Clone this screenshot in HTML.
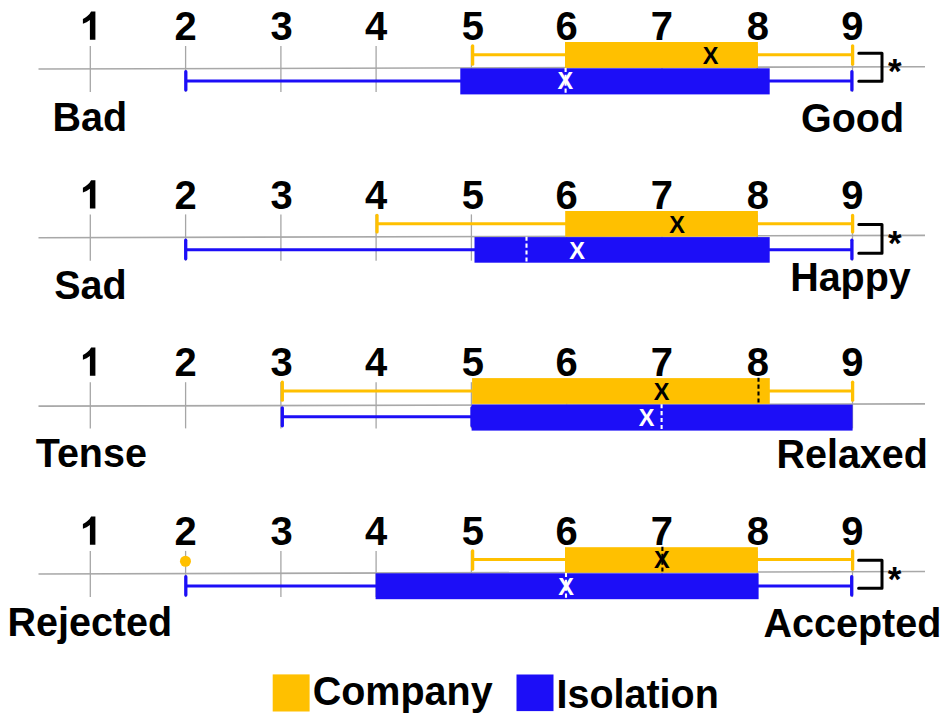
<!DOCTYPE html>
<html><head><meta charset="utf-8"><style>
html,body{margin:0;padding:0;background:#fff;}
svg{display:block;}
text{font-family:"Liberation Sans",sans-serif;}
.n{font-size:40px;font-weight:bold;text-anchor:middle;fill:#000;}
.l{font-size:39.5px;font-weight:bold;fill:#000;}
.r{font-size:39.5px;font-weight:bold;text-anchor:end;fill:#000;}
.x{font-size:23.5px;font-weight:bold;text-anchor:middle;}
.a{font-size:35px;font-weight:bold;text-anchor:middle;fill:#000;}
</style></head><body>
<svg width="945" height="725" viewBox="0 0 945 725">
<line x1="38.5" y1="69.0" x2="925" y2="66.75" stroke="#a8a8a8" stroke-width="1.6"/>
<line x1="90.3" y1="46" x2="90.3" y2="92" stroke="#a6a6a6" stroke-width="1.3"/>
<path d="M91.10,11.50 L95.40,11.50 L95.40,39.80 L89.90,39.80 L89.90,20.00 C87.80,21.60 85.50,22.90 82.90,23.80 L82.90,19.00 C85.60,17.80 89.50,14.90 91.10,11.50 Z" fill="#000"/>
<line x1="185.6" y1="46" x2="185.6" y2="92" stroke="#a6a6a6" stroke-width="1.3"/>
<text transform="translate(185.6,40.0) scale(1,1.025)" class="n">2</text>
<line x1="280.9" y1="46" x2="280.9" y2="92" stroke="#a6a6a6" stroke-width="1.3"/>
<text transform="translate(281.6,40.0) scale(1,1.025)" class="n">3</text>
<line x1="376.1" y1="46" x2="376.1" y2="92" stroke="#a6a6a6" stroke-width="1.3"/>
<text transform="translate(376.1,40.0) scale(1,1.025)" class="n">4</text>
<line x1="471.4" y1="46" x2="471.4" y2="92" stroke="#a6a6a6" stroke-width="1.3"/>
<text transform="translate(472.9,40.0) scale(1,1.025)" class="n">5</text>
<line x1="566.7" y1="46" x2="566.7" y2="92" stroke="#a6a6a6" stroke-width="1.3"/>
<text transform="translate(566.7,40.0) scale(1,1.025)" class="n">6</text>
<line x1="662.0" y1="46" x2="662.0" y2="92" stroke="#a6a6a6" stroke-width="1.3"/>
<text transform="translate(662.0,40.0) scale(1,1.025)" class="n">7</text>
<line x1="757.2" y1="46" x2="757.2" y2="92" stroke="#a6a6a6" stroke-width="1.3"/>
<text transform="translate(758.0,40.0) scale(1,1.025)" class="n">8</text>
<line x1="852.5" y1="46" x2="852.5" y2="92" stroke="#a6a6a6" stroke-width="1.3"/>
<text transform="translate(852.5,40.0) scale(1,1.025)" class="n">9</text>
<line x1="472.6" y1="54.8" x2="852.6" y2="54.8" stroke="#FFC000" stroke-width="3"/>
<line x1="472.6" y1="45.85" x2="472.6" y2="64.14999999999999" stroke="#FFC000" stroke-width="3.3" stroke-linecap="round"/>
<line x1="852.6" y1="45.85" x2="852.6" y2="64.14999999999999" stroke="#FFC000" stroke-width="3.3" stroke-linecap="round"/>
<rect x="565" y="42" width="192.9" height="25.8" fill="#FFC000"/>
<text x="710.6" y="64.3" class="x" fill="#000">X</text>
<line x1="185.8" y1="81.0" x2="851.9" y2="81.0" stroke="#1C0EF7" stroke-width="3"/>
<line x1="185.8" y1="71.65" x2="185.8" y2="89.94999999999999" stroke="#1C0EF7" stroke-width="3.3" stroke-linecap="round"/>
<line x1="851.9" y1="71.65" x2="851.9" y2="89.94999999999999" stroke="#1C0EF7" stroke-width="3.3" stroke-linecap="round"/>
<rect x="460.3" y="68.3" width="309.4" height="26.1" fill="#1C0EF7"/>
<line x1="565.6" y1="67.89999999999999" x2="565.6" y2="94.4" stroke="#fff" stroke-width="2.1" stroke-dasharray="4.1 2.8"/>
<text x="565.3" y="89.3" class="x" fill="#fff">X</text>
<path d="M858.8,53.2 H882 V81.2 H858.8" fill="none" stroke="#000" stroke-width="3" stroke-linecap="round" stroke-linejoin="round"/>
<text x="894.7" y="83.4" class="a">*</text>
<text transform="translate(52.5,131.2) scale(1,1.04)" class="l">Bad</text>
<text transform="translate(904.1,131.6) scale(1,1.04)" class="r">Good</text>
<line x1="38.5" y1="237.75" x2="925" y2="235.35" stroke="#a8a8a8" stroke-width="1.6"/>
<line x1="90.3" y1="214.4" x2="90.3" y2="260.7" stroke="#a6a6a6" stroke-width="1.3"/>
<path d="M91.10,180.30 L95.40,180.30 L95.40,208.60 L89.90,208.60 L89.90,188.80 C87.80,190.40 85.50,191.70 82.90,192.60 L82.90,187.80 C85.60,186.60 89.50,183.70 91.10,180.30 Z" fill="#000"/>
<line x1="185.6" y1="214.4" x2="185.6" y2="260.7" stroke="#a6a6a6" stroke-width="1.3"/>
<text transform="translate(185.6,208.8) scale(1,1.025)" class="n">2</text>
<line x1="280.9" y1="214.4" x2="280.9" y2="260.7" stroke="#a6a6a6" stroke-width="1.3"/>
<text transform="translate(281.6,208.8) scale(1,1.025)" class="n">3</text>
<line x1="376.1" y1="214.4" x2="376.1" y2="260.7" stroke="#a6a6a6" stroke-width="1.3"/>
<text transform="translate(376.1,208.8) scale(1,1.025)" class="n">4</text>
<line x1="471.4" y1="214.4" x2="471.4" y2="260.7" stroke="#a6a6a6" stroke-width="1.3"/>
<text transform="translate(472.9,208.8) scale(1,1.025)" class="n">5</text>
<line x1="566.7" y1="214.4" x2="566.7" y2="260.7" stroke="#a6a6a6" stroke-width="1.3"/>
<text transform="translate(566.7,208.8) scale(1,1.025)" class="n">6</text>
<line x1="662.0" y1="214.4" x2="662.0" y2="260.7" stroke="#a6a6a6" stroke-width="1.3"/>
<text transform="translate(662.0,208.8) scale(1,1.025)" class="n">7</text>
<line x1="757.2" y1="214.4" x2="757.2" y2="260.7" stroke="#a6a6a6" stroke-width="1.3"/>
<text transform="translate(758.0,208.8) scale(1,1.025)" class="n">8</text>
<line x1="852.5" y1="214.4" x2="852.5" y2="260.7" stroke="#a6a6a6" stroke-width="1.3"/>
<text transform="translate(852.5,208.8) scale(1,1.025)" class="n">9</text>
<line x1="377" y1="223.7" x2="852.6" y2="223.7" stroke="#FFC000" stroke-width="3"/>
<line x1="377" y1="215.45000000000002" x2="377" y2="231.95" stroke="#FFC000" stroke-width="3.3" stroke-linecap="round"/>
<line x1="852.6" y1="215.45000000000002" x2="852.6" y2="231.95" stroke="#FFC000" stroke-width="3.3" stroke-linecap="round"/>
<rect x="565.2" y="211" width="192.7" height="25.6" fill="#FFC000"/>
<text x="677.2" y="232.6" class="x" fill="#000">X</text>
<line x1="185.7" y1="249.7" x2="851.9" y2="249.7" stroke="#1C0EF7" stroke-width="3"/>
<line x1="185.7" y1="240.25" x2="185.7" y2="258.75" stroke="#1C0EF7" stroke-width="3.3" stroke-linecap="round"/>
<line x1="851.9" y1="240.25" x2="851.9" y2="258.75" stroke="#1C0EF7" stroke-width="3.3" stroke-linecap="round"/>
<rect x="474.5" y="237.1" width="295.2" height="25.6" fill="#1C0EF7"/>
<line x1="526.5" y1="236.7" x2="526.5" y2="262.7" stroke="#fff" stroke-width="2.1" stroke-dasharray="4.1 2.8"/>
<text x="577.0" y="258.8" class="x" fill="#fff">X</text>
<path d="M858.8,224.6 H882 V253.2 H858.8" fill="none" stroke="#000" stroke-width="3" stroke-linecap="round" stroke-linejoin="round"/>
<text x="894.7" y="255.1" class="a">*</text>
<text transform="translate(54.2,298.6) scale(1,1.04)" class="l">Sad</text>
<text transform="translate(910.8,291.3) scale(1,1.04)" class="r">Happy</text>
<line x1="38.5" y1="406.15" x2="925" y2="403.85" stroke="#a8a8a8" stroke-width="1.6"/>
<line x1="90.3" y1="382.2" x2="90.3" y2="428.4" stroke="#a6a6a6" stroke-width="1.3"/>
<path d="M91.10,347.40 L95.40,347.40 L95.40,375.70 L89.90,375.70 L89.90,355.90 C87.80,357.50 85.50,358.80 82.90,359.70 L82.90,354.90 C85.60,353.70 89.50,350.80 91.10,347.40 Z" fill="#000"/>
<line x1="185.6" y1="382.2" x2="185.6" y2="428.4" stroke="#a6a6a6" stroke-width="1.3"/>
<text transform="translate(185.6,375.9) scale(1,1.025)" class="n">2</text>
<line x1="280.9" y1="382.2" x2="280.9" y2="428.4" stroke="#a6a6a6" stroke-width="1.3"/>
<text transform="translate(281.6,375.9) scale(1,1.025)" class="n">3</text>
<line x1="376.1" y1="382.2" x2="376.1" y2="428.4" stroke="#a6a6a6" stroke-width="1.3"/>
<text transform="translate(376.1,375.9) scale(1,1.025)" class="n">4</text>
<line x1="471.4" y1="382.2" x2="471.4" y2="428.4" stroke="#a6a6a6" stroke-width="1.3"/>
<text transform="translate(472.9,375.9) scale(1,1.025)" class="n">5</text>
<line x1="566.7" y1="382.2" x2="566.7" y2="428.4" stroke="#a6a6a6" stroke-width="1.3"/>
<text transform="translate(566.7,375.9) scale(1,1.025)" class="n">6</text>
<line x1="662.0" y1="382.2" x2="662.0" y2="428.4" stroke="#a6a6a6" stroke-width="1.3"/>
<text transform="translate(662.0,375.9) scale(1,1.025)" class="n">7</text>
<line x1="757.2" y1="382.2" x2="757.2" y2="428.4" stroke="#a6a6a6" stroke-width="1.3"/>
<text transform="translate(758.0,375.9) scale(1,1.025)" class="n">8</text>
<line x1="852.5" y1="382.2" x2="852.5" y2="428.4" stroke="#a6a6a6" stroke-width="1.3"/>
<text transform="translate(852.5,375.9) scale(1,1.025)" class="n">9</text>
<line x1="282.3" y1="391.1" x2="852.6" y2="391.1" stroke="#FFC000" stroke-width="3"/>
<line x1="282.3" y1="382.15" x2="282.3" y2="400.15000000000003" stroke="#FFC000" stroke-width="3.3" stroke-linecap="round"/>
<line x1="852.6" y1="382.15" x2="852.6" y2="400.15000000000003" stroke="#FFC000" stroke-width="3.3" stroke-linecap="round"/>
<rect x="472.1" y="378.1" width="297.7" height="25.8" fill="#FFC000"/>
<line x1="758.5" y1="377.70000000000005" x2="758.5" y2="403.9" stroke="#000" stroke-width="2.1" stroke-dasharray="4.1 2.8"/>
<text x="661.5" y="399.8" class="x" fill="#000">X</text>
<line x1="282.3" y1="416.8" x2="472" y2="416.8" stroke="#1C0EF7" stroke-width="3"/>
<line x1="282.3" y1="407.84999999999997" x2="282.3" y2="425.85" stroke="#1C0EF7" stroke-width="3.3" stroke-linecap="round"/>
<line x1="472" y1="407.84999999999997" x2="472" y2="425.85" stroke="#1C0EF7" stroke-width="3.3" stroke-linecap="round"/>
<rect x="471.6" y="404.6" width="381.0" height="26.0" fill="#1C0EF7"/>
<line x1="661.6" y1="404.20000000000005" x2="661.6" y2="430.6" stroke="#fff" stroke-width="2.1" stroke-dasharray="4.1 2.8"/>
<text x="646.7" y="426.2" class="x" fill="#fff">X</text>
<text transform="translate(35.7,467.4) scale(1,1.04)" class="l">Tense</text>
<text transform="translate(927.9,468.1) scale(1,1.04)" class="r">Relaxed</text>
<line x1="38.5" y1="573.95" x2="925" y2="571.55" stroke="#a8a8a8" stroke-width="1.6"/>
<line x1="90.3" y1="550.9" x2="90.3" y2="597.1" stroke="#a6a6a6" stroke-width="1.3"/>
<path d="M91.10,516.50 L95.40,516.50 L95.40,544.80 L89.90,544.80 L89.90,525.00 C87.80,526.60 85.50,527.90 82.90,528.80 L82.90,524.00 C85.60,522.80 89.50,519.90 91.10,516.50 Z" fill="#000"/>
<line x1="185.6" y1="550.9" x2="185.6" y2="597.1" stroke="#a6a6a6" stroke-width="1.3"/>
<text transform="translate(185.6,545.0) scale(1,1.025)" class="n">2</text>
<line x1="280.9" y1="550.9" x2="280.9" y2="597.1" stroke="#a6a6a6" stroke-width="1.3"/>
<text transform="translate(281.6,545.0) scale(1,1.025)" class="n">3</text>
<line x1="376.1" y1="550.9" x2="376.1" y2="597.1" stroke="#a6a6a6" stroke-width="1.3"/>
<text transform="translate(376.1,545.0) scale(1,1.025)" class="n">4</text>
<line x1="471.4" y1="550.9" x2="471.4" y2="597.1" stroke="#a6a6a6" stroke-width="1.3"/>
<text transform="translate(472.9,545.0) scale(1,1.025)" class="n">5</text>
<line x1="566.7" y1="550.9" x2="566.7" y2="597.1" stroke="#a6a6a6" stroke-width="1.3"/>
<text transform="translate(566.7,545.0) scale(1,1.025)" class="n">6</text>
<line x1="662.0" y1="550.9" x2="662.0" y2="597.1" stroke="#a6a6a6" stroke-width="1.3"/>
<text transform="translate(662.0,545.0) scale(1,1.025)" class="n">7</text>
<line x1="757.2" y1="550.9" x2="757.2" y2="597.1" stroke="#a6a6a6" stroke-width="1.3"/>
<text transform="translate(758.0,545.0) scale(1,1.025)" class="n">8</text>
<line x1="852.5" y1="550.9" x2="852.5" y2="597.1" stroke="#a6a6a6" stroke-width="1.3"/>
<text transform="translate(852.5,545.0) scale(1,1.025)" class="n">9</text>
<circle cx="185.45" cy="561.25" r="5.5" fill="#FFC000"/>
<line x1="472.6" y1="559.6" x2="852.6" y2="559.6" stroke="#FFC000" stroke-width="3"/>
<line x1="472.6" y1="550.85" x2="472.6" y2="569.15" stroke="#FFC000" stroke-width="3.3" stroke-linecap="round"/>
<line x1="852.6" y1="550.85" x2="852.6" y2="569.15" stroke="#FFC000" stroke-width="3.3" stroke-linecap="round"/>
<rect x="565" y="547.2" width="192.9" height="25.4" fill="#FFC000"/>
<line x1="662.4" y1="546.8000000000001" x2="662.4" y2="572.6" stroke="#000" stroke-width="2.1" stroke-dasharray="4.1 2.8"/>
<text x="661.9" y="568.4" class="x" fill="#000">X</text>
<line x1="185.8" y1="586.0" x2="851.7" y2="586.0" stroke="#1C0EF7" stroke-width="3"/>
<line x1="185.8" y1="576.75" x2="185.8" y2="595.0500000000001" stroke="#1C0EF7" stroke-width="3.3" stroke-linecap="round"/>
<line x1="851.7" y1="576.75" x2="851.7" y2="595.0500000000001" stroke="#1C0EF7" stroke-width="3.3" stroke-linecap="round"/>
<rect x="375.6" y="573.3" width="383.0" height="25.9" fill="#1C0EF7"/>
<line x1="566.0" y1="572.9" x2="566.0" y2="599.2" stroke="#fff" stroke-width="2.1" stroke-dasharray="4.1 2.8"/>
<text x="566.2" y="594.6" class="x" fill="#fff">X</text>
<path d="M858.6,560.3 H882 V588.3 H858.6" fill="none" stroke="#000" stroke-width="3" stroke-linecap="round" stroke-linejoin="round"/>
<text x="894.6" y="590.5" class="a">*</text>
<text transform="translate(7.5,636.2) scale(1,1.04)" class="l">Rejected</text>
<text transform="translate(941.3,636.5) scale(1,1.04)" class="r">Accepted</text>
<rect x="272.7" y="674.4" width="36.9" height="37.1" fill="#FFC000"/>
<text transform="translate(312.7,705.4) scale(1,1.04)" class="l">Company</text>
<rect x="516.5" y="674.5" width="37" height="36.6" fill="#1C0EF7"/>
<text transform="translate(556.5,708.2) scale(1,1.04)" class="l">Isolation</text>
</svg>
</body></html>
